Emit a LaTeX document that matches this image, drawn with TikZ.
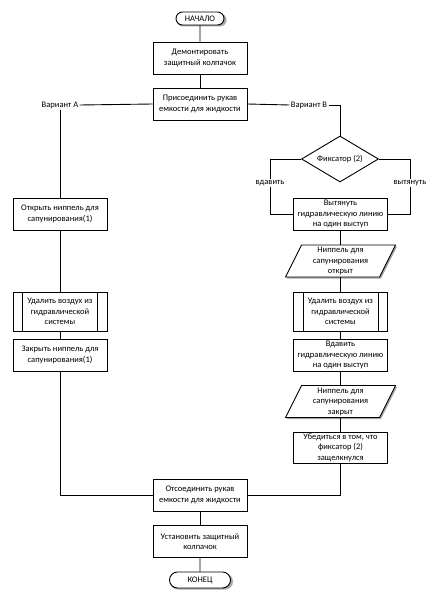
\documentclass[tikz,border=0pt]{standalone}
\usepackage{fontspec}
\setmainfont{Carlito}
\usetikzlibrary{shapes.misc,shapes.geometric,calc}
\begin{document}
\begin{tikzpicture}[x=1pt,y=-1pt, line width=0.9pt,
  every node/.style={font=\fontsize{8.5}{10.5}\selectfont},
  box/.style={draw, fill=white, minimum width=94pt, minimum height=32pt, align=center, inner sep=1pt},
  term/.style={draw, fill=white, rounded rectangle, inner sep=1pt},
  lbl/.style={fill=white, inner sep=1pt},
  para/.style={minimum height=32pt, minimum width=80pt, inner sep=0pt, align=center},
  shadowc/.style={fill=black!35, draw=none}]
\useasboundingbox (0,0) rectangle (433,602);

% parallelogram shapes
\coordinate (p1c) at (340.5,261);
\coordinate (p2c) at (340.5,401.5);
\foreach \c in {p1c,p2c}{
  \fill[shadowc] ($(\c)+(-54,17.5)$) -- ($(\c)+(-38,-14.5)$) -- ($(\c)+(56.5,-14.5)$) -- ($(\c)+(40.5,17.5)$) -- cycle;
  \draw[fill=white] ($(\c)+(-55,16)$) -- ($(\c)+(-39,-16)$) -- ($(\c)+(55,-16)$) -- ($(\c)+(39,16)$) -- cycle;
}
% terminal shadows
\fill[shadowc, rounded corners=6.5pt] (176.5,13.5) rectangle (226.5,26.5);
\fill[shadowc, rounded corners=8pt] (170,573.5) rectangle (233,589.5);

% nodes
\node[term, minimum width=50pt, minimum height=13pt] (nach) at (200,18.5) {НАЧАЛО};
\node[box] (b1) at (200,58) {Демонтировать\\защитный колпачок};
\node[box] (b2) at (200,104) {Присоединить рукав\\емкости для жидкости};
\node[inner sep=1pt] (va) at (60,105) {Вариант А};
\node[inner sep=1pt] (vb) at (309,105) {Вариант В};
\node[draw, fill=white, diamond, aspect=1.67, minimum width=77pt, minimum height=46pt, inner sep=0pt] (dia) at (340,159) {Фиксатор (2)};
\node[box] (vyt) at (340.5,214) {Вытянуть\\гидравлическую линию\\на один выступ};
\node[para] (p1) at (p1c) {Ниппель для\\сапунирования\\открыт};
\node[box, minimum height=39pt] (ud2) at (340.5,311.5) {Удалить воздух из\\гидравлической\\системы};
\node[box] (vd) at (340.5,355) {Вдавить\\гидравлическую линию\\на один выступ};
\node[para, minimum height=31pt] (p2) at (p2c) {Ниппель для\\сапунирования\\закрыт};
\node[box, minimum height=31pt] (ub) at (340.5,447.5) {Убедиться в том, что\\фиксатор (2)\\защелкнулся};
\node[box] (otk) at (60,214) {Открыть ниппель для\\сапунирования(1)};
\node[box, minimum height=39pt] (ud1) at (60,311.5) {Удалить воздух из\\гидравлической\\системы};
\node[box] (zak) at (60,355) {Закрыть ниппель для\\сапунирования(1)};
\node[box] (ots) at (200,495) {Отсоединить рукав\\емкости для жидкости};
\node[box] (ust) at (200,541.5) {Установить защитный\\колпачок};
\node[term, minimum width=63pt, minimum height=16pt] (kon) at (200,580) {КОНЕЦ};

% predefined-process inner lines
\foreach \n in {ud1,ud2}{
  \draw ([xshift=10pt]\n.north west) -- ([xshift=10pt]\n.south west);
  \draw ([xshift=-10pt]\n.north east) -- ([xshift=-10pt]\n.south east);
}

% connectors
\draw (nach) -- (b1);
\draw (b1) -- (b2);
\draw (b2.west) -- (va.east);
\draw (va.south) -- (otk.north);
\draw (otk) -- (ud1);
\draw (ud1) -- (zak);
\draw (zak.south) |- (ots.west);
\draw (b2.east) -- (vb.west);
\draw (vb.east) -| (dia.north);
\coordinate (lk) at (270,214);
\coordinate (rk) at (410,214);
\draw (dia.west) -| (lk) -- (vyt.west);
\draw (dia.east) -| (rk) -- (vyt.east);
\node[lbl] (vz) at (270,183) {вдавить};
\node[lbl] (vt) at (410,183) {вытянуть};
\draw (vyt.south) -- (p1.north);
\draw (p1.south) -- (ud2.north);
\draw (ud2) -- (vd);
\draw (vd.south) -- (p2.north);
\draw (p2.south) -- (ub.north);
\draw (ub.south) |- (ots.east);
\draw (ots) -- (ust);
\draw (ust) -- (kon);
\end{tikzpicture}
\end{document}
